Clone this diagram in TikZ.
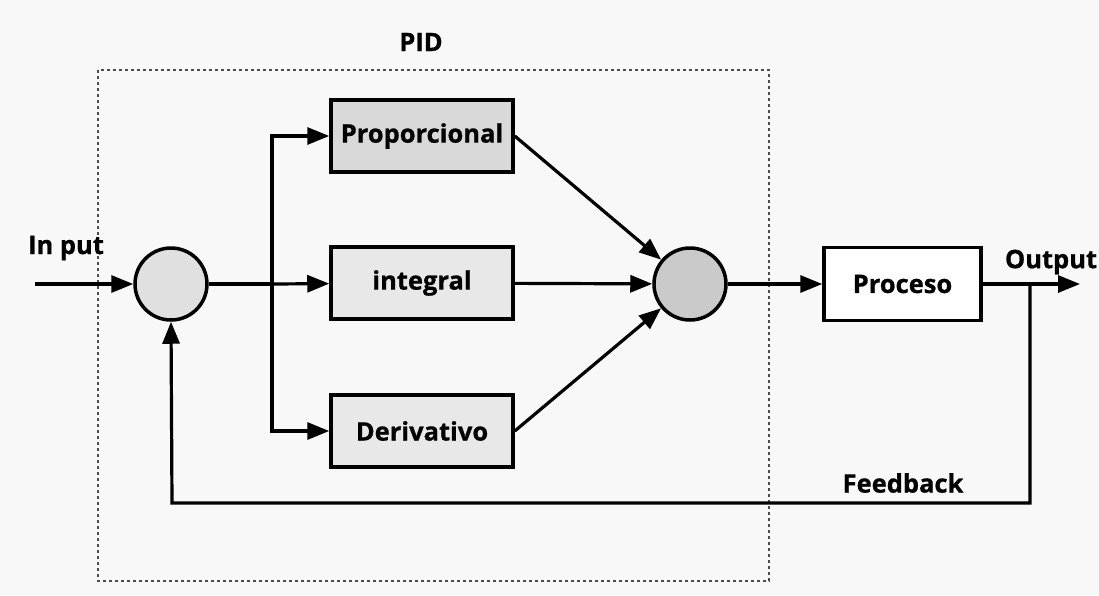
\documentclass[tikz,border=0pt]{standalone}
\usepackage{fontspec}
\setmainfont{Open Sans}[BoldFeatures={FakeBold=0.8}]
\usetikzlibrary{arrows.meta}
\definecolor{bgcol}{HTML}{F8F8F8}
\definecolor{boxP}{HTML}{D9D9D9}
\definecolor{boxL}{HTML}{E8E8E8}
\definecolor{sumA}{HTML}{E0E0E0}
\definecolor{sumB}{HTML}{CACACA}
\tikzset{
  blockbox/.style={draw=black, line width=3.5pt, minimum width=182pt, minimum height=72pt,
    font=\bfseries\fontsize{25.5}{28}\selectfont, inner sep=0pt},
  sumnode/.style={circle, draw=black, line width=3.5pt, minimum size=72pt, inner sep=0pt},
  wire/.style={line width=3.2pt},
  flow/.style={wire, -{Triangle[length=22pt, width=17pt]}},
  lbl/.style={font=\bfseries\fontsize{25.5}{28}\selectfont, inner sep=0pt}
}
\begin{document}
\begin{tikzpicture}[x=1pt, y=-1pt]
  \fill[bgcol] (0,0) rectangle (1099,595);
  \useasboundingbox (0,0) rectangle (1099,595);

  % PID controller boundary
  \draw[line width=1.2pt, dash pattern=on 3pt off 3pt, black!70] (98,70) rectangle (769,581);
  \node[lbl] (pid) at (421,42) {PID};

  % summing junctions
  \node[sumnode, fill=sumA] (s1) at (171,284) {};
  \node[sumnode, fill=sumB] (s2) at (690,284) {};

  % controller terms
  \node[blockbox, fill=boxP] (prop) at (422,136) {Proporcional};
  \node[blockbox, fill=boxL] (integ) at (422,283) {integral};
  \node[blockbox, fill=boxL] (deriv) at (422,431) {Derivativo};

  % plant
  \node[blockbox, fill=white, minimum width=157pt, minimum height=73pt] (proc) at (902.5,284) {Proceso};

  % reference input
  \coordinate (inp) at (35,284);
  \node[lbl] (inlbl) at (66,248) {In put};
  \draw[flow] (inp) -- (s1);

  % branch into the three terms
  \coordinate (split) at (272,284);
  \draw[wire] (s1) -- (split);
  \draw[flow] (split) -- (integ);
  \draw[flow] (split) -- (272,136) -- (prop);
  \draw[flow] (split) -- (272,431) -- (deriv);

  % terms into the second junction
  \draw[flow] (prop.east) -- (s2);
  \draw[flow] (integ) -- (s2);
  \draw[flow] (deriv.east) -- (s2);

  % junction to plant
  \draw[flow] (s2) -- (proc);

  % output
  \coordinate (out) at (1080,284);
  \draw[flow] (proc) -- (out);
  \node[lbl] (outlbl) at (1051,262) {Output};

  % feedback loop
  \coordinate (tap) at (1030,284);
  \draw[flow] (tap) -- (1030,503) -- (172,503) -- (s1.south);
  \node[lbl] (fb) at (903,483) {Feedback};
\end{tikzpicture}
\end{document}
